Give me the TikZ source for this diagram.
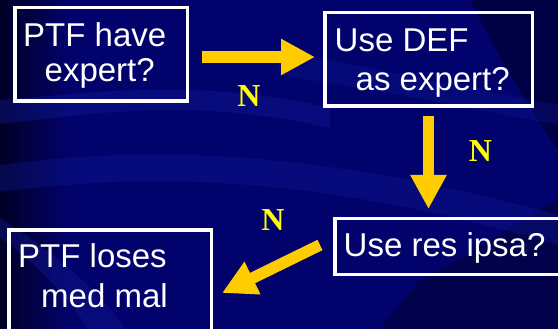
\documentclass[tikz,border=0pt]{standalone}
\usepackage{fontspec}
\setmainfont{Liberation Sans}
\newfontfamily\nfont{Liberation Serif}
\usetikzlibrary{arrows.meta}
\definecolor{bgbase}{RGB}{2,2,108}
\definecolor{bgdark}{RGB}{0,0,38}
\definecolor{bglight}{RGB}{16,26,150}
\definecolor{gold}{RGB}{255,204,0}
\definecolor{nyellow}{RGB}{255,255,0}
\begin{document}
\begin{tikzpicture}[x=1pt,y=-1pt,
  box/.style={draw=white, line width=3.5pt, inner sep=0pt},
  txt/.style={text=white, font=\fontsize{33}{33}\selectfont, anchor=base west, inner sep=0pt},
  nlab/.style={text=nyellow, font=\nfont\bfseries\fontsize{32}{32}\selectfont, anchor=base, inner sep=0pt},
  flow/.style={draw=gold, line width=11.5pt, -{Triangle[width=34pt,length=34pt]}}]
\useasboundingbox (0,0) rectangle (558,329);
\begin{scope}
  \clip (0,0) rectangle (558,329);
  \fill[bgbase] (0,0) rectangle (558,329);
  \shade[left color=bgdark, right color=bgbase] (0,0) rectangle (70,329);
  \fill[bgdark, opacity=0.55] (470,0) -- (558,0) -- (558,150) .. controls (530,110) and (500,60) .. cycle;
  \fill[bgdark, opacity=0.45] (420,280) .. controls (480,250) and (520,220) .. (558,200) -- (558,329) -- (380,329) -- cycle;
  \fill[bglight, opacity=0.4] (0,100) .. controls (100,92) and (200,78) .. (330,108) -- (330,128) .. controls (200,98) and (100,112) .. (0,124) -- cycle;
  \fill[bglight, opacity=0.35] (0,165) .. controls (150,145) and (320,150) .. (558,215) -- (558,245) .. controls (320,175) and (150,172) .. (0,192) -- cycle;
  \fill[bglight, opacity=0.4] (0,238) .. controls (40,265) and (70,300) .. (88,329) -- (125,329) .. controls (100,290) and (50,250) .. (0,218) -- cycle;
  \fill[bglight, opacity=0.3] (279,50) .. controls (380,70) and (480,90) .. (558,105) -- (558,125) .. controls (480,110) and (380,90) .. (279,75) -- cycle;
  % boxes
  \node[box, minimum width=172.5pt, minimum height=93.5pt] (b1) at (101,54.5) {};
  \node[box, minimum width=207.5pt, minimum height=93.5pt] (b2) at (428.5,59.5) {};
  \node[box, minimum width=283.5pt, minimum height=55.5pt] (b3) at (476.5,246.5) {};
  \node[box, minimum width=202.5pt, minimum height=148.5pt] (b4) at (110,304) {};
\end{scope}
% texts
\node[txt] (t1a) at (23,47) {PTF have};
\node[txt] (t1b) at (44.5,82) {expert?};
\node[txt] (t2a) at (334.5,52) {Use DEF};
\node[txt] (t2b) at (355.5,91) {as expert?};
\node[txt] (t3) at (343.5,257) {Use res ipsa?};
\node[txt] (t4a) at (18,267) {PTF loses};
\node[txt] (t4b) at (41,307) {med mal};
% N labels
\node[nlab] (n1) at (249,107) {N};
\node[nlab] (n2) at (480.5,162) {N};
\node[nlab] (n3) at (273,230) {N};
% arrows
\coordinate (a1s) at (202,57);
\coordinate (a1e) at (315,57);
\coordinate (a2s) at (428.5,116);
\coordinate (a2e) at (428.5,209);
\coordinate (a3s) at (320,245);
\coordinate (a3e) at (222,293);
\draw[flow] (a1s) -- (a1e);
\draw[flow] (a2s) -- (a2e);
\draw[flow] (a3s) -- (a3e);
\end{tikzpicture}
\end{document}
